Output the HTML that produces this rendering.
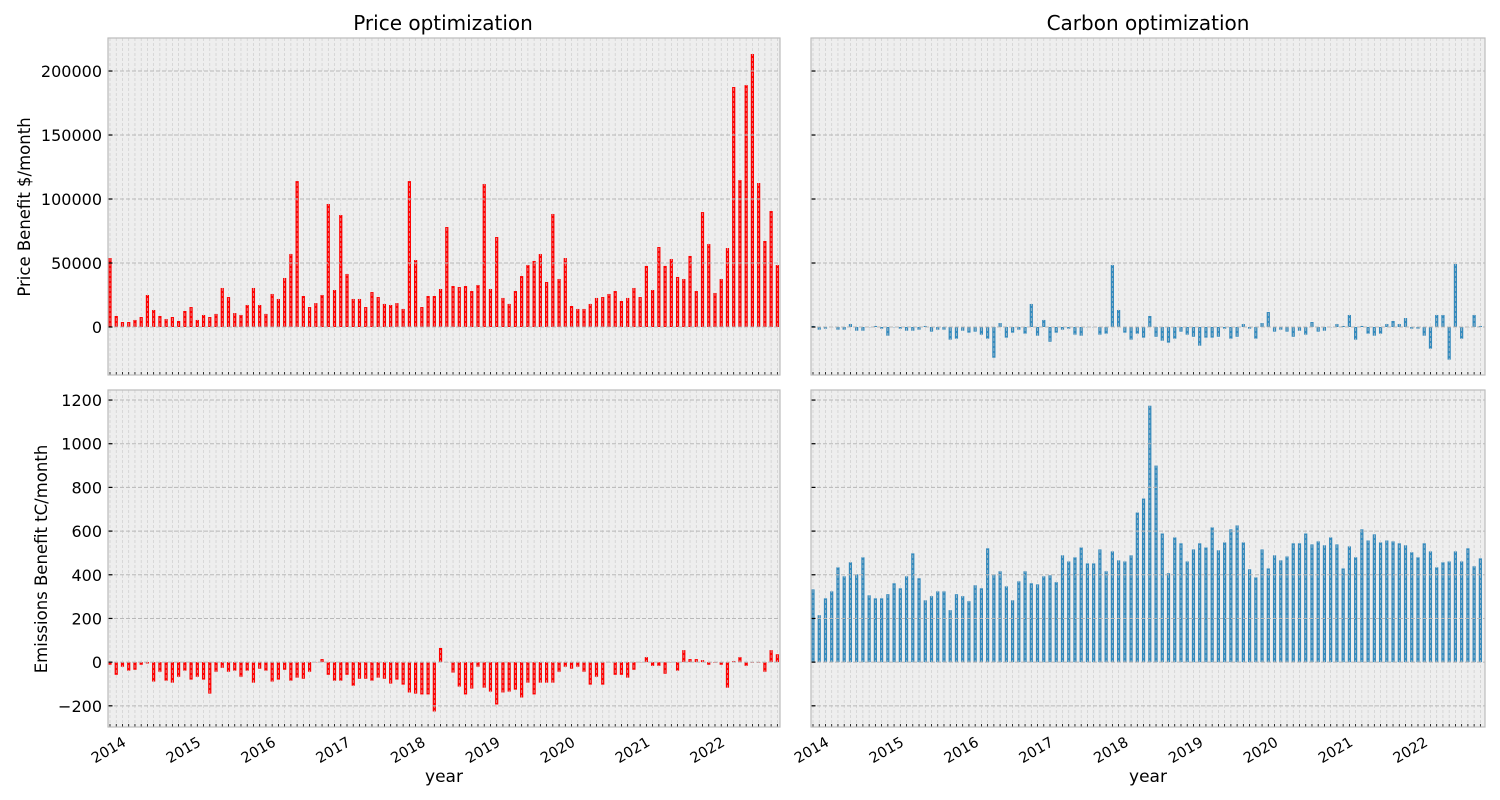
<!DOCTYPE html>
<html><head><meta charset="utf-8"><style>
html,body{margin:0;padding:0;background:#fff;}
svg{display:block;font-family:"DejaVu Sans","Liberation Sans",sans-serif;}
</style></head><body>
<svg id="chart" width="1500" height="800" xmlns="http://www.w3.org/2000/svg"></svg>
<script>
const years = ["2014","2015","2016","2017","2018","2019","2020","2021","2022"];
const priceTickLabels = ["0","50000","100000","150000","200000"];
const priceTicks = [0,50000,100000,150000,200000];
const emisTickLabels = ["−200","0","200","400","600","800","1000","1200"];
const emisTicks = [-200,0,200,400,600,800,1000,1200];
const pricePriceOpt = [53900,8600,3900,3900,5500,7800,25000,13300,8600,6200,7800,4700,12500,15600,5500,9400,7800,10200,30500,23400,10900,9400,17200,30500,17200,10200,25800,21900,38300,57000,114000,24200,15600,18700,25000,96100,28900,87500,41400,21900,21900,15600,27300,23400,18000,17200,18700,14100,114000,52300,15600,24200,24200,29700,
78100,32000,31200,32000,28100,32800,111700,29700,70300,22700,18000,28100,39800,48400,51600,57000,35200,88300,37500,53900,16400,14100,14100,18000,22700,23400,25800,28100,20300,22700,30500,23400,47700,28900,62500,47700,53100,39100,37500,55500,28100,89800,64800,26600,37500,61700,187500,114800,189000,213300,112500,67200,90600,48400];
const emisPriceOpt = [-12,-58,-21,-39,-35,-12,-6,-89,-44,-85,-94,-67,-39,-80,-67,-80,-144,-44,-26,-44,-39,-67,-39,-94,-30,-39,-89,-80,-35,-85,-71,-76,-44,0,14,-58,-85,-85,-58,-108,-76,-76,-85,-71,-76,-98,-80,-103,-139,-144,-148,-148,-226,65,
0,-48,-112,-148,-121,-21,-117,-135,-194,-139,-135,-126,-162,-94,-148,-94,-94,-94,-44,-21,-30,-21,-44,-103,-67,-103,0,-58,-58,-71,-35,0,23,-17,-17,-53,0,-39,55,14,14,9,-12,-3,-12,-117,5,23,-17,-3,-3,-44,55,36];
const priceCarbonOpt = [800,-2100,-1300,0,-2100,-2100,2300,-2900,-2900,0,800,-1300,-6800,0,-1300,-2900,-2900,-2100,800,-3600,-2100,-2100,-9900,-9100,-2900,-4400,-3600,-6000,-9100,-24000,3100,-8300,-4400,-2100,-5200,18000,-6800,5500,-11500,-4400,-2100,-1300,-6000,-6800,0,0,-6000,-5200,48400,13300,-4400,-9900,-5200,-8300,
8600,-7600,-10700,-12200,-9100,-3600,-6000,-7600,-14600,-8300,-8300,-7600,-1300,-9100,-7600,2300,-1300,-9100,3100,11700,-3600,-2100,-3600,-7600,-2900,-6000,3900,-3600,-2900,0,2300,800,9400,-9900,800,-5200,-6800,-5200,2300,4700,2300,7000,-1300,-1300,-6800,-16900,9400,9400,-25500,49200,-9100,0,9400,800];
const emisCarbonOpt = [333,215,292,324,434,393,457,402,480,306,292,292,311,361,338,393,498,384,283,302,324,324,238,311,302,279,352,338,521,402,416,347,283,370,416,361,356,393,398,366,489,461,480,525,452,452,516,416,507,466,461,489,685,749,
1174,900,589,407,571,544,461,516,544,525,617,512,548,608,626,548,425,388,516,429,489,466,484,544,544,589,539,553,535,571,539,429,530,480,608,557,585,548,557,553,544,535,503,480,544,507,434,457,461,507,461,521,439,475];

const NS = "http://www.w3.org/2000/svg";
const svg = document.getElementById('chart');
function mk(tag, attrs, parent) {
  const e = document.createElementNS(NS, tag);
  for (const k in attrs) e.setAttribute(k, attrs[k]);
  (parent || svg).appendChild(e);
  return e;
}
const N = pricePriceOpt.length;
const STEP = 6.237;
const PANELS = [
  {x0:108, x1:780, y0:38, y1:375, vmin:-37500, vmax:225800, data:pricePriceOpt, color:'#ff0000', name:'price-opt-price-benefit', labels:true, ticks:priceTicks, tlabels:priceTickLabels, xlabels:false},
  {x0:811, x1:1485, y0:38, y1:375, vmin:-37500, vmax:225800, data:priceCarbonOpt, color:'#348ABD', name:'carbon-opt-price-benefit', labels:false, ticks:priceTicks, tlabels:priceTickLabels, xlabels:false},
  {x0:108, x1:780, y0:390, y1:727, vmin:-297, vmax:1246, data:emisPriceOpt, color:'#ff0000', name:'price-opt-emissions-benefit', labels:true, ticks:emisTicks, tlabels:emisTickLabels, xlabels:true},
  {x0:811, x1:1485, y0:390, y1:727, vmin:-297, vmax:1246, data:emisCarbonOpt, color:'#348ABD', name:'carbon-opt-emissions-benefit', labels:false, ticks:emisTicks, tlabels:emisTickLabels, xlabels:true}
];
PANELS.forEach(p => {
  const g = mk('g', {});
  
  
  const xs = i => p.x0 + 2.0 + i * STEP;
  const ys = v => p.y1 - (v - p.vmin) / (p.vmax - p.vmin) * (p.y1 - p.y0);
  const bg = mk('rect', {x:p.x0, y:p.y0, width:p.x1-p.x0, height:p.y1-p.y0, fill:'#eeeeee'}, g);
  
  
  p.data.forEach((v, i) => {
    const yv = ys(v), y0 = ys(0);
    const r = mk('rect', {x:(xs(i)-1.6).toFixed(2), y:Math.min(yv,y0).toFixed(2), width:3.2, height:Math.max(Math.abs(yv-y0),0.3).toFixed(2), fill:p.color}, g);
    
    
  });
  for (let i = 0; i < N; i++) {
    mk('line', {x1:xs(i), x2:xs(i), y1:p.y0, y2:p.y1, stroke:'#c8c8c8', 'stroke-width':0.7, 'stroke-dasharray':'3,2', opacity:0.85}, g);
    mk('line', {x1:xs(i), x2:xs(i), y1:p.y1, y2:p.y1-3, stroke:'#000', 'stroke-width':0.8}, g);
  }
  p.ticks.forEach((t, k) => {
    const y = ys(t);
    mk('line', {x1:p.x0, x2:p.x1, y1:y, y2:y, stroke:'#b8b8b8', 'stroke-width':1, 'stroke-dasharray':'4,2'}, g);
    mk('line', {x1:p.x0, x2:p.x0+4.5, y1:y, y2:y, stroke:'#000', 'stroke-width':1.2}, g);
    if (p.labels) {
      const t2 = mk('text', {x:p.x0-6, y:y+6, 'text-anchor':'end', 'font-size':16, fill:'#000'}, g);
      t2.textContent = p.tlabels[k];
      
      
    }
  });
  mk('rect', {x:p.x0, y:p.y0, width:p.x1-p.x0, height:p.y1-p.y0, fill:'none', stroke:'#bcbcbc', 'stroke-width':1.2}, g);
  if (p.xlabels) {
    years.forEach((yr, k) => {
      const tx = xs(k*12);
      const t = mk('text', {x:tx+17, y:p.y1+18, 'text-anchor':'end', 'font-size':14.5, fill:'#000', transform:`rotate(-30 ${tx+17} ${p.y1+18})`}, g);
      t.textContent = yr;
      
      
    });
    const xl = mk('text', {x:(p.x0+p.x1)/2, y:782, 'text-anchor':'middle', 'font-size':17, fill:'#000'}, g);
    xl.textContent = 'year';
    
    
  }
});
function label(txt, attrs, name) {
  const t = mk('text', attrs);
  t.textContent = txt;
  
  
}
label('Price optimization', {x:443, y:30, 'text-anchor':'middle', 'font-size':20}, 'left-title');
label('Carbon optimization', {x:1148, y:30, 'text-anchor':'middle', 'font-size':20}, 'right-title');
label('Price Benefit $/month', {x:30, y:207, 'text-anchor':'middle', 'font-size':16.5, transform:'rotate(-90 30 207)'}, 'y-axis-title-price');
label('Emissions Benefit tC/month', {x:47, y:559, 'text-anchor':'middle', 'font-size':16.5, transform:'rotate(-90 47 559)'}, 'y-axis-title-emissions');
</script>
</body></html>
